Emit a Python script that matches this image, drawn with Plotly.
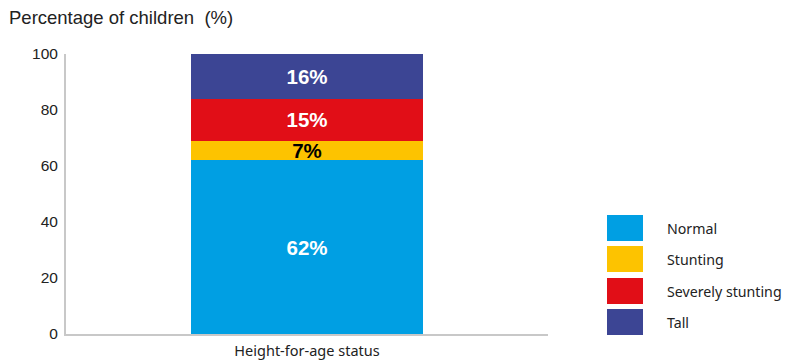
import plotly.graph_objects as go

categories = ["Height-for-age status"]
series_names = ["Normal", "Stunting", "Severely stunting", "Tall"]
series_values = [[62], [7], [15], [16]]
series_colors = ["#009fe3", "#fdc300", "#e10e17", "#3c4594"]
label_colors = ["white", "black", "white", "white"]
y_ticks = [0, 20, 40, 60, 80, 100]

W, H = 791, 363
ML, MR, MT, MB = 66, 243, 54, 29
PW, PH = W - ML - MR, H - MT - MB

def px_x(x):
    return (x - ML) / PW

def px_y(y):
    return (H - MB - y) / PH

fig = go.Figure()
for name, vals, col, lc in zip(series_names, series_values, series_colors, label_colors):
    fig.add_trace(go.Bar(
        x=categories, y=vals, name=name, marker=dict(color=col, line=dict(width=0)),
        text=[f"{v}%" for v in vals], textposition="inside", insidetextanchor="middle",
        textfont=dict(family="Liberation Sans, Arial", size=20.5, color=lc, weight="bold"),
        constraintext="none", showlegend=False, hoverinfo="skip",
    ))

shapes = []
annotations = []
row_tops = [215, 246, 278, 309]
for name, col, top in zip(series_names, series_colors, row_tops):
    shapes.append(dict(type="rect", xref="paper", yref="paper",
                       x0=px_x(607), x1=px_x(643), y0=px_y(top + 26), y1=px_y(top),
                       fillcolor=col, line=dict(width=0)))
    annotations.append(dict(xref="paper", yref="paper", x=px_x(665), y=px_y(top + 13),
                            text=name, showarrow=False, xanchor="left", yanchor="middle",
                            font=dict(family="Noto Sans, Open Sans, sans-serif", size=14.2, color="#222")))

annotations.append(dict(xref="paper", yref="paper", x=px_x(7), y=px_y(17),
                        text="Percentage of children\u00a0 (%)", showarrow=False,
                        xanchor="left", yanchor="middle",
                        font=dict(family="Liberation Sans, Arial", size=18.5, color="#222")))

fig.update_layout(
    width=W, height=H, barmode="stack", bargap=0.52,
    margin=dict(l=ML, r=MR, t=MT, b=MB, pad=0, autoexpand=False),
    plot_bgcolor="white", paper_bgcolor="white",
    shapes=shapes, annotations=annotations, showlegend=False,
    xaxis=dict(showline=True, linecolor="#c8c8c8", linewidth=2, ticks="", automargin=False,
               ticklabelstandoff=3,
               tickfont=dict(family="Noto Sans, Open Sans, sans-serif", size=14.5, color="#222"),
               showgrid=False, zeroline=False),
    yaxis=dict(range=[0, 100], tickvals=y_ticks, showline=True, linecolor="#c8c8c8", linewidth=2,
               ticks="", showgrid=False, zeroline=False, ticklabelstandoff=3, automargin=False,
               tickfont=dict(family="Liberation Sans, Arial", size=15.5, color="#222")),
)
fig.write_html("out.html", config={"displayModeBar": False},
               post_script="document.body.style.margin='0';")
